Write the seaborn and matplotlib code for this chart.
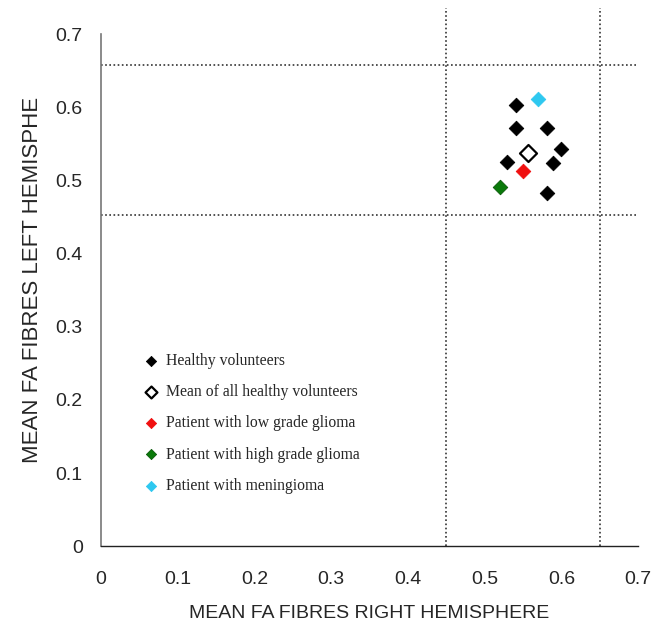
import pandas as pd
import matplotlib.pyplot as plt
import seaborn as sns

# values
groups = ['Healthy volunteers', 'Healthy volunteers', 'Healthy volunteers',
          'Healthy volunteers', 'Healthy volunteers', 'Healthy volunteers',
          'Healthy volunteers', 'Mean of all healthy volunteers',
          'Patient with low grade glioma', 'Patient with high grade glioma',
          'Patient with meningioma']
right_fa = [0.541, 0.541, 0.581, 0.600, 0.529, 0.589, 0.581, 0.557, 0.550, 0.520, 0.570]
left_fa = [0.603, 0.572, 0.572, 0.543, 0.525, 0.524, 0.483, 0.538, 0.513, 0.491, 0.611]

legend_order = ['Healthy volunteers', 'Mean of all healthy volunteers',
                'Patient with low grade glioma', 'Patient with high grade glioma',
                'Patient with meningioma']
face = {'Healthy volunteers': 'black', 'Mean of all healthy volunteers': 'white',
        'Patient with low grade glioma': '#f01010', 'Patient with high grade glioma': '#0a7a0a',
        'Patient with meningioma': '#2ec8f0'}
edge = {'Healthy volunteers': 'black', 'Mean of all healthy volunteers': 'black',
        'Patient with low grade glioma': '#f01010', 'Patient with high grade glioma': '#0a5a0a',
        'Patient with meningioma': '#2ec8f0'}

# normal range limits (dotted lines)
x_limits = [0.45, 0.65]
y_limits = [0.453, 0.658]

df = pd.DataFrame({'right': right_fa, 'left': left_fa, 'group': groups})

sns.set_style('white')
plt.rcParams['font.family'] = ['Liberation Sans', 'DejaVu Sans']

fig = plt.figure(figsize=(6.64, 6.25), dpi=100)
ax = fig.add_axes([0.152, 0.126, 0.809, 0.8195])

for g in legend_order:
    sub = df[df['group'] == g]
    big = g == 'Mean of all healthy volunteers'
    sns.scatterplot(data=sub, x='right', y='left', marker='D', s=75 if big else 55,
                    color=face[g], edgecolor=edge[g], linewidth=1.6 if big else 0.6,
                    label=g, ax=ax, zorder=3)

# dotted reference lines
ax.vlines(x_limits, 0, 0.735, colors='#333333', linestyles=(0, (1, 1.5)), linewidth=1.2, clip_on=False)
ax.hlines(y_limits, 0, 0.7, colors='#333333', linestyles=(0, (1, 1.5)), linewidth=1.2)

ax.set_xlim(0, 0.7)
ax.set_ylim(0, 0.7)
ticks = [0, 0.1, 0.2, 0.3, 0.4, 0.5, 0.6, 0.7]
labels = ['0', '0.1', '0.2', '0.3', '0.4', '0.5', '0.6', '0.7']
ax.set_xticks(ticks, labels)
ax.set_yticks(ticks, labels)
ax.tick_params(axis='both', labelsize=14, length=5, width=1, direction='out', color='#555555', pad=8)
ax.tick_params(axis='x', pad=13)

for s in ['top', 'right']:
    ax.spines[s].set_visible(False)
ax.spines['left'].set_color('#777777')
ax.spines['bottom'].set_color('#222222')
ax.spines['left'].set_linewidth(1.2)
ax.spines['bottom'].set_linewidth(1.0)

ax.set_xlabel('MEAN FA FIBRES RIGHT HEMISPHERE', fontsize=14, labelpad=12)
ax.set_ylabel('MEAN FA FIBRES LEFT HEMISPHE', fontsize=16, labelpad=9)
ax.yaxis.label.set_y(0.52)

ax.legend(loc='upper left', bbox_to_anchor=(0.045, 0.405), frameon=False,
          prop={'family': 'Liberation Serif', 'size': 11.3}, labelspacing=0.97,
          handletextpad=0.2, markerscale=0.7, handlelength=1.5)

plt.savefig('out.png', dpi=100)
